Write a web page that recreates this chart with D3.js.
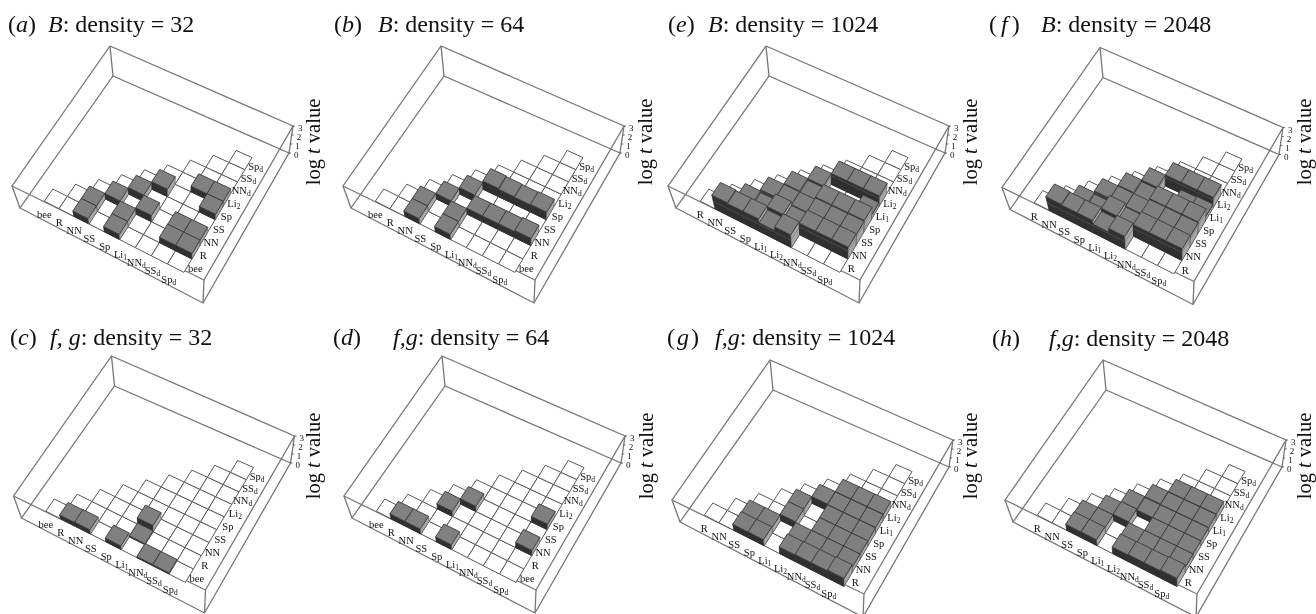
<!DOCTYPE html>
<html>
<head>
<meta charset="utf-8">
<script src="https://cdnjs.cloudflare.com/ajax/libs/d3/7.8.5/d3.min.js"></script>
<style>
  html, body { margin: 0; padding: 0; background: #fff; }
  svg { display: block; filter: blur(0.35px); }
  text { font-family: "Liberation Serif", serif; fill: #111; }
</style>
</head>
<body>
<svg id="chart" width="1316" height="614"></svg>
<script>
// Tick labels along the two floor edges
const labelsLowA = ["bee", "R", "NN", "SS", "Sp", "Li1", "NNd", "SSd", "Spd"];
const labelsLowB = ["bee", "R", "NN", "SS", "Sp", "Li2", "NNd", "SSd", "Spd"];
const labelsHigh = ["R", "NN", "SS", "Sp", "Li1", "Li2", "NNd", "SSd", "Spd"];
const zTicks = [0, 1, 2, 3];

// Bars: [column, row, log t]
const barsA = [[2,0,.7],[2,1,.7],[3,2,.7],[4,3,.8],[5,4,.9],[4,1,.7],[4,0,.7],[5,2,.8],
  [7,1,.7],[8,1,.7],[7,2,.65],[8,2,.65],[7,5,.65],[8,5,.65],[8,4,.65]];
const barsB = [[2,0,.7],[2,1,.7],[3,2,.7],[4,3,.8],[5,4,1],[6,4,.9],[7,4,.85],[8,4,.9],
  [4,1,.7],[4,0,.7],[5,2,.75],[6,2,.75],[7,2,.75],[8,2,.9]];
const barsC = [[1,0,.5],[2,0,.55],[4,0,.5],[5,2,.8],[5,1,.12],[6,0,.15],[7,0,.15]];
const barsD = [[1,0,.65],[2,0,.65],[3,2,.65],[4,3,.65],[4,0,.65],[8,4,.65],[8,2,.65]];
const barsE = [[1,0,1.8],[2,0,1.7],[3,0,1.7],[4,0,1.2],[5,0,1.7],[2,1,1],[3,1,.8],[3,2,1.2],
  [4,1,1.6],[4,2,1.2],[4,3,1.3],[5,1,1.1],[5,2,1.2],[5,3,1.1],[5,4,1.3],[6,1,1.5],[7,1,1.5],[8,1,1.5],
  [6,2,1.4],[7,2,1.4],[8,2,1.4],[6,3,1.5],[7,3,1.5],[8,3,1.5],[6,5,1.3],[7,5,1.3],[8,5,1.3],[8,4,.5]];
const barsF = [[1,0,1.8],[2,0,1.7],[3,0,1.7],[4,0,1.2],[5,0,1.7],[2,1,1],[3,1,.8],[3,2,1.2],
  [4,1,1.6],[4,2,1.2],[4,3,1.3],[5,1,1.1],[5,2,1.2],[5,3,1.1],[5,4,1.3],[6,1,1.5],[7,1,1.5],[8,1,1.5],
  [6,2,1.4],[7,2,1.4],[8,2,1.4],[6,3,1.5],[7,3,1.5],[8,3,1.5],[6,5,1.3],[7,5,1.3],[8,5,1.3],[8,4,.5],[7,4,.4]];
const barsG = [[2,0,.8],[3,0,.8],[2,1,.7],[3,1,.7],[4,2,.8],[4,3,.8],[5,4,.8],[6,4,.75],[7,4,.75],[8,4,.75],
  [6,5,.8],[7,5,.8],[8,5,.8],[6,3,.7],[7,3,.7],[8,3,.7],[6,2,.7],[7,2,.7],[8,2,.7],
  [5,1,.7],[6,1,.7],[7,1,.7],[8,1,.7],[5,0,.9],[6,0,.95],[7,0,.95],[8,0,1.05]];
const barsH = [[2,0,.8],[3,0,.8],[2,1,.7],[3,1,.7],[3,2,.7],[4,2,.8],[4,3,.8],[5,3,.7],[5,4,.8],[6,4,.75],[7,4,.75],[8,4,.75],
  [6,5,.8],[7,5,.8],[8,5,.8],[6,3,.7],[7,3,.7],[8,3,.7],[6,2,.7],[7,2,.7],[8,2,.7],
  [5,1,.7],[6,1,.7],[7,1,.7],[8,1,.7],[5,0,.9],[6,0,.95],[7,0,.95],[8,0,1.05]];

// Panel captions
const tags = ["a", "b", "e", "f", "c", "d", "g", "h"];
const captions = ["B: density = 32", "B: density = 64", "B: density = 1024", "B: density = 2048",
  "f, g: density = 32", "f,g: density = 64", "f,g: density = 1024", "f,g: density = 2048"];

// Panel placement
const panels = [
  { bars: barsA, low: labelsLowA, high: labelsLowB, dx: 0,   dy: 0,   tagX: 8,    tagGap: 0, capX: 48,   capY: 32,  logX: 320,  logY: 142 },
  { bars: barsB, low: labelsLowA, high: labelsLowB, dx: 331, dy: 0,   tagX: 334,  tagGap: 0, capX: 378,  capY: 32,  logX: 652,  logY: 142 },
  { bars: barsE, low: labelsHigh, high: labelsHigh, dx: 656, dy: 0,   tagX: 668,  tagGap: 0, capX: 708,  capY: 32,  logX: 977,  logY: 142 },
  { bars: barsF, low: labelsHigh, high: labelsHigh, dx: 990, dy: 1.5, tagX: 989,  tagGap: 4, capX: 1041, capY: 32,  logX: 1311, logY: 142 },
  { bars: barsC, low: labelsLowA, high: labelsLowB, dx: 1.5, dy: 310, tagX: 10,   tagGap: 0, capX: 50,   capY: 345, logX: 320,  logY: 456 },
  { bars: barsD, low: labelsLowA, high: labelsLowB, dx: 332, dy: 310, tagX: 333,  tagGap: 0, capX: 393,  capY: 345, logX: 653,  logY: 456 },
  { bars: barsG, low: labelsHigh, high: labelsHigh, dx: 660, dy: 314, tagX: 667,  tagGap: 2, capX: 715,  capY: 345, logX: 977,  logY: 456 },
  { bars: barsH, low: labelsHigh, high: labelsHigh, dx: 993, dy: 314, tagX: 992,  tagGap: 0, capX: 1049, capY: 346, logX: 1311, logY: 456 },
];

// Box corners of panel (a): left, front, right, back
const floorQuad = [[20, 208], [203, 303], [289, 153], [113, 76]];
const ceilQuad = [[12, 186], [204, 280], [293, 126], [110, 46]];

// Maps the unit square onto a quad
function homography(q) {
  const [[x0, y0], [x1, y1], [x2, y2], [x3, y3]] = q;
  const dx1 = x1 - x2, dx2 = x3 - x2, sx = x0 - x1 + x2 - x3;
  const dy1 = y1 - y2, dy2 = y3 - y2, sy = y0 - y1 + y2 - y3;
  const den = dx1 * dy2 - dx2 * dy1;
  const g = (sx * dy2 - dx2 * sy) / den;
  const h = (dx1 * sy - sx * dy1) / den;
  const a = x1 - x0 + g * x1, b = x3 - x0 + h * x3;
  const d = y1 - y0 + g * y1, e = y3 - y0 + h * y3;
  return (s, t) => {
    const w = g * s + h * t + 1;
    return [(a * s + b * t + x0) / w, (d * s + e * t + y0) / w];
  };
}
const floorMap = homography(floorQuad);
const ceilMap = homography(ceilQuad);

// Scales from data to box coordinates
const colScale = d3.scaleLinear().domain([0, 9]).range([0.085, 0.855]);
const rowScale = d3.scaleLinear().domain([0, 9]).range([0.1, 0.88]);
const zScale = d3.scaleLinear().domain([0, 3]).range([0, 1]);

function project(s, t, z) {
  const f = floorMap(s, t), c = ceilMap(s, t), k = zScale(z);
  return [f[0] + (c[0] - f[0]) * k, f[1] + (c[1] - f[1]) * k];
}
const cell = (col, row, z) => project(colScale(col), rowScale(row), z);
const polyPath = pts => d3.line()(pts) + "Z";

const svg = d3.select("#chart");

// Writes "Li1" / "NNd" with the last bit as a subscript
function addLabel(g, name, p) {
  const m = name.match(/^(Li|NN|SS|Sp)([12d])$/);
  const t = g.append("text").attr("x", p[0]).attr("y", p[1] + 3).attr("text-anchor", "middle").attr("font-size", 10.5);
  if (m) {
    t.append("tspan").text(m[1]);
    t.append("tspan").attr("dy", 2).attr("font-size", 7.5).text(m[2]);
  } else {
    t.text(name);
  }
}

function drawPanel(p, idx) {
  const g = svg.append("g").attr("transform", `translate(${p.dx},${p.dy})`);

  // Box wireframe
  const box = g.append("g").attr("fill", "none").attr("stroke", "#777").attr("stroke-width", 1.3);
  box.append("path").attr("d", polyPath(floorQuad));
  box.append("path").attr("d", polyPath(ceilQuad));
  floorQuad.forEach((c, i) => box.append("path").attr("d", d3.line()([c, ceilQuad[i]])));

  // Triangular grid on the floor
  const grid = g.append("g").attr("fill", "#fff").attr("stroke", "#5a5a5a").attr("stroke-width", 1);
  d3.range(9).forEach(col => d3.range(col + 1).forEach(row => {
    grid.append("path").attr("d", polyPath([cell(col, row, 0), cell(col + 1, row, 0), cell(col + 1, row + 1, 0), cell(col, row + 1, 0)]));
  }));

  // Bars, painted back to front
  const sorted = p.bars.slice().sort((u, v) => (u[0] - u[1]) - (v[0] - v[1]));
  const bars = g.append("g").attr("stroke-linejoin", "round");
  sorted.forEach(([col, row, v]) => {
    const front = [cell(col, row, 0), cell(col + 1, row, 0), cell(col + 1, row, v), cell(col, row, v)];
    const side = [cell(col + 1, row, 0), cell(col + 1, row + 1, 0), cell(col + 1, row + 1, v), cell(col + 1, row, v)];
    const top = [cell(col, row, v), cell(col + 1, row, v), cell(col + 1, row + 1, v), cell(col, row + 1, v)];
    bars.append("path").attr("d", polyPath(front)).attr("fill", "#303030").attr("stroke", "#222").attr("stroke-width", 0.6);
    bars.append("path").attr("d", polyPath(side)).attr("fill", "#a8a8a8").attr("stroke", "#555").attr("stroke-width", 0.6);
    if (v > 1) {
      bars.append("path").attr("d", d3.line()([cell(col, row, 1), cell(col + 1, row, 1), cell(col + 1, row + 1, 1)]))
        .attr("fill", "none").attr("stroke", "#666").attr("stroke-width", 0.5);
    }
    bars.append("path").attr("d", polyPath(top)).attr("fill", "#808080").attr("stroke", "#3a3a3a").attr("stroke-width", 0.9);
  });

  // Category labels
  p.low.forEach((name, i) => addLabel(g, name, cell(i + 0.5, -0.85, 0)));
  p.high.forEach((name, i) => addLabel(g, name, cell(9.45, i + 0.5, 0)));

  // z axis at the right corner
  zTicks.forEach(z => {
    const c = project(1, 1, z);
    g.append("path").attr("d", d3.line()([[c[0], c[1]], [c[0] + 2, c[1]]])).attr("stroke", "#333").attr("stroke-width", 0.7);
    g.append("text").attr("x", c[0] + 5).attr("y", c[1] + 5).attr("font-size", 9).attr("text-anchor", "start").text(z);
  });

  // Caption
  const tag = svg.append("text").attr("x", p.tagX).attr("y", p.capY).attr("font-size", 24);
  tag.append("tspan").text("(");
  tag.append("tspan").attr("dx", p.tagGap).attr("font-style", "italic").text(tags[idx]);
  tag.append("tspan").attr("dx", p.tagGap).text(")");
  const cap = svg.append("text").attr("x", p.capX).attr("y", p.capY).attr("font-size", 24);
  const [head, rest] = captions[idx].split(":");
  cap.append("tspan").attr("font-style", "italic").text(head);
  cap.append("tspan").text(":" + rest);

  // Vertical axis title
  const log = svg.append("text").attr("transform", `translate(${p.logX},${p.logY}) rotate(-90)`)
    .attr("text-anchor", "middle").attr("font-size", 20.5);
  log.append("tspan").text("log ");
  log.append("tspan").attr("font-style", "italic").text("t");
  log.append("tspan").text(" value");
}

panels.forEach(drawPanel);
</script>
</body>
</html>
